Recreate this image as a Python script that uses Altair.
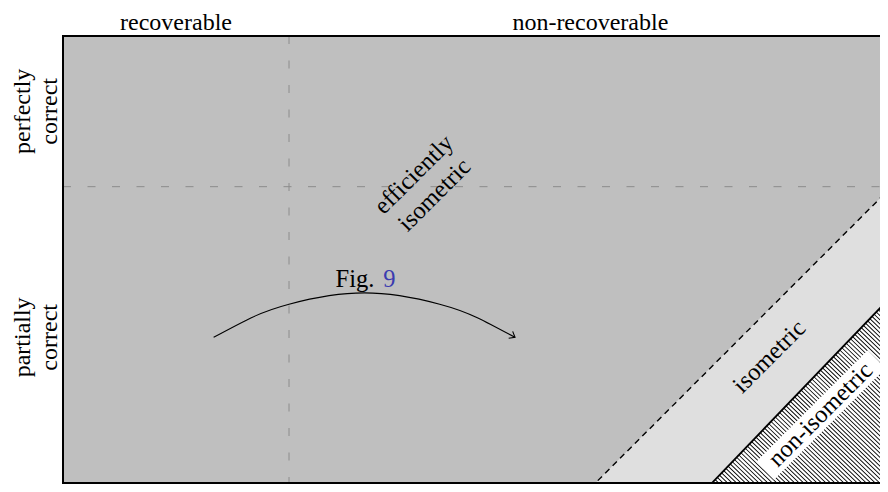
import altair as alt
import pandas as pd

# ---- diagram data (in diagram units) ----
col_labels = ["recoverable", "non-recoverable"]
col_bounds = [0, 3, 11]
row_first = ["perfectly", "partially"]
row_second = ["correct", "correct"]
row_bounds = [6, 4, 0]

dashed_x = [7, 11]
dashed_y = [0, 4]
solid_x = [8.55, 11]
solid_y = [0, 2.55]

region_labels = ["efficiently\nisometric", "isometric", "non-isometric"]
region_x = [4.8, 9.38, 10.06]
region_y = [4.02, 1.74, 0.97]

arc_x = [2, 2.5, 3, 4, 5, 5.5, 6]
arc_y = [2, 2.26, 2.44, 2.59, 2.44, 2.26, 2]
arc_text = ["Fig.", "9"]
arc_text_x = 4
arc_text_y = 2.67

# visible window of the diagram (the picture is cropped at right and bottom)
X_DOMAIN = [0, 10.845]
Y_DOMAIN = [0.067, 6]
FONT = "Liberation Serif"
FS = 24.5
FS_OUT = 24

xs = alt.Scale(domain=X_DOMAIN, nice=False, zero=False)
ys = alt.Scale(domain=Y_DOMAIN, nice=False, zero=False)


def X(f="x"):
    return alt.X(f"{f}:Q", scale=xs, axis=None)


def Y(f="y"):
    return alt.Y(f"{f}:Q", scale=ys, axis=None)


dashed_df = pd.DataFrame({"x": dashed_x, "y": dashed_y})
solid_df = pd.DataFrame({"x": solid_x, "y": solid_y})
solid_seg = pd.DataFrame({"x": [solid_x[0]], "y": [solid_y[0]],
                          "x2": [solid_x[1]], "y2": [solid_y[1]]})

# regions
light = alt.Chart(dashed_df).mark_area(color="#dfdfdf", clip=True, orient="vertical").encode(
    x=X(), y=Y(), y2=alt.datum(0))
white = alt.Chart(solid_df).mark_area(color="white", clip=True, orient="vertical").encode(
    x=X(), y=Y(), y2=alt.datum(0))
hatch = alt.Chart(solid_seg).mark_rule(
    color="black", strokeWidth=150, strokeDash=[0.9, 2.2], clip=True,
    xOffset=-22, yOffset=131, x2Offset=130, y2Offset=-27).encode(
    x=X(), y=Y(), x2="x2:Q", y2="y2:Q")

# grid dividers
vgrid = alt.Chart(pd.DataFrame({"x": [col_bounds[1]], "y": [row_bounds[0]], "y2": [row_bounds[2]]})).mark_rule(
    color="#8c8c8c", strokeWidth=1, strokeDash=[8, 16.5], clip=True).encode(x=X(), y=Y(), y2="y2:Q")
hgrid = alt.Chart(pd.DataFrame({"x": [col_bounds[0]], "x2": [col_bounds[2]], "y": [row_bounds[1]]})).mark_rule(
    color="#8c8c8c", strokeWidth=1, strokeDash=[8, 16.5], clip=True).encode(x=X(), x2="x2:Q", y=Y())

# boundaries
dashed_line = alt.Chart(dashed_df).mark_line(color="black", strokeWidth=1.4, strokeDash=[6, 4.5], clip=True).encode(
    x=X(), y=Y())
solid_line = alt.Chart(solid_df).mark_line(color="black", strokeWidth=1.8, clip=True).encode(
    x=X(), y=Y())

# white box behind "non-isometric"
box = alt.Chart(pd.DataFrame({"x": [region_x[2]], "y": [region_y[2]]})).mark_point(
    shape="M-1,-0.16 L1,-0.16 L1,0.16 L-1,0.16 Z", filled=True, fill="white",
    strokeWidth=0, opacity=1, size=24964, angle=315, clip=True).encode(x=X(), y=Y())

# region labels
eff_lines = region_labels[0].split("\n")
eff1 = alt.Chart(pd.DataFrame({"x": [region_x[0]], "y": [region_y[0]], "t": [eff_lines[0]]})).mark_text(
    font=FONT, fontSize=FS, angle=315, align="center", baseline="middle", dy=-14.5, color="black").encode(
    x=X(), y=Y(), text="t:N")
eff2 = alt.Chart(pd.DataFrame({"x": [region_x[0]], "y": [region_y[0]], "t": [eff_lines[1]]})).mark_text(
    font=FONT, fontSize=FS, angle=315, align="center", baseline="middle", dy=14.5, color="black").encode(
    x=X(), y=Y(), text="t:N")
band_labels = alt.Chart(pd.DataFrame({"x": region_x[1:], "y": region_y[1:], "t": region_labels[1:]})).mark_text(
    font=FONT, fontSize=FS, angle=315, align="center", baseline="middle", color="black").encode(
    x=X(), y=Y(), text="t:N")

# column labels (top)
col_df = pd.DataFrame({"x": [(col_bounds[i] + col_bounds[i + 1]) / 2 for i in range(2)], "t": col_labels})
col_text = alt.Chart(col_df).mark_text(font=FONT, fontSize=FS_OUT, align="center", baseline="alphabetic",
                                       color="black").encode(x=X(), y=alt.value(-6.5), text="t:N")

# row labels (left, rotated)
row_centers = [(row_bounds[i] + row_bounds[i + 1]) / 2 for i in range(2)]
row1 = alt.Chart(pd.DataFrame({"y": row_centers, "t": row_first})).mark_text(
    font=FONT, fontSize=FS_OUT, angle=270, align="center", baseline="alphabetic", color="black").encode(
    x=alt.value(-33.5), y=Y(), text="t:N")
row2 = alt.Chart(pd.DataFrame({"y": row_centers, "t": row_second})).mark_text(
    font=FONT, fontSize=FS_OUT, angle=270, align="center", baseline="alphabetic", color="black").encode(
    x=alt.value(-6), y=Y(), text="t:N")

# frame (top, left, bottom of the visible window)
frame_df = pd.DataFrame({
    "x": [col_bounds[0], col_bounds[0], col_bounds[0]],
    "x2": [col_bounds[2], col_bounds[0], col_bounds[2]],
    "y": [row_bounds[0], row_bounds[0], Y_DOMAIN[0]],
    "y2": [row_bounds[0], Y_DOMAIN[0], Y_DOMAIN[0]],
})
frame = alt.Chart(frame_df).mark_rule(color="black", strokeWidth=2, strokeCap="square").encode(
    x=X(), x2="x2:Q", y=Y(), y2="y2:Q")

# arc with arrow
arc_df = pd.DataFrame({"x": arc_x, "y": arc_y})
arc = alt.Chart(arc_df).mark_line(color="black", strokeWidth=1.1, interpolate="natural").encode(x=X(), y=Y())
arrow = alt.Chart(pd.DataFrame({"x": [arc_x[-1]], "y": [arc_y[-1]]})).mark_point(
    shape="M-1,-0.8 L0,0 L-1,0.8", filled=False, stroke="black", strokeWidth=1.1, opacity=1,
    size=100, angle=30).encode(x=X(), y=Y())
fig_t = alt.Chart(pd.DataFrame({"x": [arc_text_x], "y": [arc_text_y], "t": [arc_text[0]]})).mark_text(
    font=FONT, fontSize=FS, align="right", baseline="alphabetic", dx=10, color="black").encode(
    x=X(), y=Y(), text="t:N")
fig_n = alt.Chart(pd.DataFrame({"x": [arc_text_x], "y": [arc_text_y], "t": [arc_text[1]]})).mark_text(
    font=FONT, fontSize=FS, align="left", baseline="alphabetic", dx=19, color="#3b3bb0").encode(
    x=X(), y=Y(), text="t:N")

chart = alt.layer(
    vgrid, hgrid, light, white, hatch, dashed_line, solid_line, box,
    eff1, eff2, band_labels, col_text, row1, row2, frame, arc, arrow, fig_t, fig_n
).properties(
    width=817, height=447,
    padding={"left": 55, "top": 28, "right": 0, "bottom": 1},
    autosize=alt.AutoSizeParams(type="none"),
).configure_view(fill="#bfbfbf", strokeWidth=0)

chart.save("out.html", embed_options={"renderer": "svg", "actions": False})
